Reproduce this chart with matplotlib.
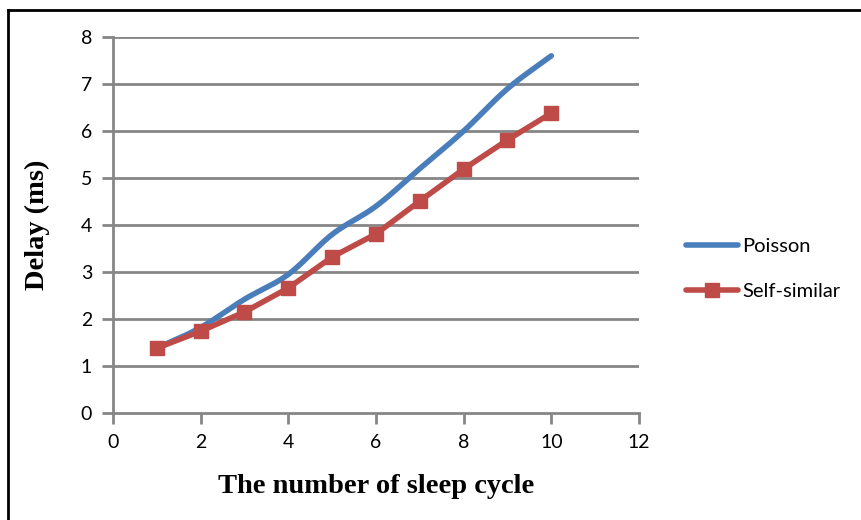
import numpy as np
import matplotlib
matplotlib.use("Agg")
import matplotlib.pyplot as plt
from matplotlib.lines import Line2D

# Sleep-cycle count vs. average delay for two traffic models
cycles = [1, 2, 3, 4, 5, 6, 7, 8, 9, 10]
poisson = [1.38, 1.82, 2.42, 2.95, 3.80, 4.40, 5.20, 6.00, 6.90, 7.60]
self_similar = [1.38, 1.74, 2.15, 2.66, 3.32, 3.81, 4.51, 5.19, 5.81, 6.38]

x_ticks = [0, 2, 4, 6, 8, 10, 12]
y_ticks = [0, 1, 2, 3, 4, 5, 6, 7, 8]

BLUE = "#4a7ebb"
RED = "#be4b48"
GRID = "#868686"


def smooth(xs, ys, n=20):
    """Catmull-Rom curve through the points (spreadsheet-style smoothed line)."""
    xs = np.asarray(xs, float)
    ys = np.asarray(ys, float)
    px = np.concatenate([[2 * xs[0] - xs[1]], xs, [2 * xs[-1] - xs[-2]]])
    py = np.concatenate([[2 * ys[0] - ys[1]], ys, [2 * ys[-1] - ys[-2]]])
    out_x, out_y = [], []
    t = np.linspace(0, 1, n, endpoint=False)
    for i in range(1, len(px) - 2):
        for arr, out in ((px, out_x), (py, out_y)):
            p0, p1, p2, p3 = arr[i - 1], arr[i], arr[i + 1], arr[i + 2]
            out.extend(0.5 * ((2 * p1) + (-p0 + p2) * t
                              + (2 * p0 - 5 * p1 + 4 * p2 - p3) * t ** 2
                              + (-p0 + 3 * p1 - 3 * p2 + p3) * t ** 3))
    out_x.append(xs[-1])
    out_y.append(ys[-1])
    return np.array(out_x), np.array(out_y)


fig = plt.figure(figsize=(8.62, 5.2), dpi=100)
ax = fig.add_axes([113 / 862, 1 - 413 / 520, 526 / 862, 376 / 520])

ax.set_xlim(0, 12)
ax.set_ylim(0, 8)
ax.set_xticks(x_ticks)
ax.set_yticks(y_ticks)

for y in y_ticks[1:]:
    ax.axhline(y, color=GRID, lw=2, zorder=1)

sx, sy = smooth(cycles, poisson)
ax.plot(sx, sy, color=BLUE, lw=4, solid_capstyle="round", zorder=3)
ax.plot(cycles, self_similar, color=RED, lw=4, marker="s", ms=10,
        markeredgecolor=RED, solid_capstyle="round", zorder=4)

for side in ("top", "right"):
    ax.spines[side].set_visible(False)
for side in ("left", "bottom"):
    ax.spines[side].set_color(GRID)
    ax.spines[side].set_linewidth(2)

ax.tick_params(axis="both", colors=GRID, width=2, length=8, direction="out",
               labelcolor="black", labelsize=14)
ax.tick_params(axis="x", pad=7)
ax.tick_params(axis="y", pad=7)
for lbl in ax.get_xticklabels() + ax.get_yticklabels():
    lbl.set_family("Lato")

ax.set_xlabel("The number of sleep cycle", family="Liberation Serif",
              fontweight="bold", fontsize=20.5, labelpad=17)
ax.set_ylabel("Delay (ms)", family="Liberation Serif", fontweight="bold",
              fontsize=20.5, labelpad=22)

handles = [
    Line2D([], [], color=BLUE, lw=4, solid_capstyle="round"),
    Line2D([], [], color=RED, lw=4, marker="s", ms=10, solid_capstyle="round"),
]
leg = fig.legend(handles, ["Poisson", "Self-similar"], loc="center left",
                 bbox_to_anchor=(668 / 862, 1 - 269 / 520), frameon=False,
                 handlelength=2.6, handletextpad=0.2, labelspacing=1.35,
                 prop={"family": "Lato", "size": 14.5})

# outer frame (left and top edges visible)
fig.add_artist(Line2D([8 / 862, 8 / 862], [0, 1 - 10 / 520],
                      transform=fig.transFigure, color="black", lw=2))
fig.add_artist(Line2D([8 / 862, 1], [1 - 10 / 520, 1 - 10 / 520],
                      transform=fig.transFigure, color="black", lw=2))

fig.savefig("out.png", dpi=100, facecolor="white")
